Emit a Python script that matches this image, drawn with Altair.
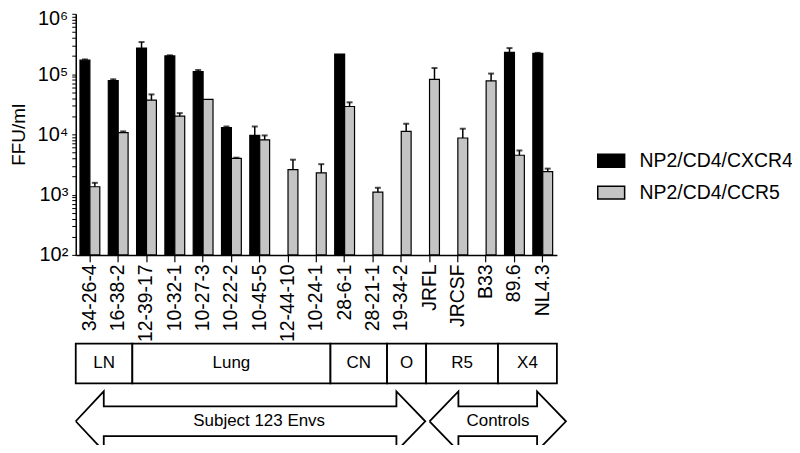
import altair as alt
import pandas as pd

categories = ["34-26-4", "16-38-2", "12-39-17", "10-32-1", "10-27-3", "10-22-2",
              "10-45-5", "12-44-10", "10-24-1", "28-6-1", "28-21-1", "19-34-2",
              "JRFL", "JRCSF", "B33", "89.6", "NL4.3"]
series = ["NP2/CD4/CXCR4", "NP2/CD4/CCR5"]
cxcr4 = [1.7e5, 7.8e4, 2.7e5, 2.0e5, 1.1e5, 1.29e4, 9.6e3, None, None, 2.15e5,
         None, None, None, None, None, 2.3e5, 2.2e5]
cxcr4_hi = [1.75e5, 8.2e4, 3.4e5, 2.05e5, 1.17e5, 1.35e4, 1.35e4, None, None, None,
            None, None, None, None, None, 2.7e5, 2.25e5]
ccr5 = [1.35e3, 1.07e4, 3.7e4, 2.0e4, 3.8e4, 4.0e3, 8.1e3, 2.6e3, 2.3e3, 2.9e4,
        1.1e3, 1.12e4, 8.2e4, 8.7e3, 7.7e4, 4.5e3, 2.4e3]
ccr5_hi = [1.57e3, 1.12e4, 4.6e4, 2.25e4, None, 4.1e3, 9.6e3, 3.8e3, 3.2e3, 3.4e4,
           1.3e3, 1.5e4, 1.26e5, 1.24e4, 1.02e5, 5.4e3, 2.7e3]

# annotation: tissue boxes (in category-index units)
box_labels = ["LN", "Lung", "CN", "O", "R5", "X4"]
box_start = [-0.5, 1.5, 8.5, 10.5, 11.88, 14.42]
box_end = [1.5, 8.5, 10.5, 11.88, 14.42, 16.5]

# annotation: double-headed arrows
arrow_names = ["Subject 123 Envs", "Controls"]
arrow_tip_left = [-0.5, 12.0]
arrow_head_left = [0.49, 13.02]
arrow_head_right = [10.83, 15.8]
arrow_tip_right = [11.85, 16.82]
arrow_label_x = [5.98, 14.42]

# rows of the annotation band (box row 0..1, arrow row below)
BOX_TOP, BOX_BOT = 0.0, 1.0
HEAD_TOP, SHAFT_TOP, MID, SHAFT_BOT, HEAD_BOT = 1.2, 1.575, 1.95, 2.325, 2.7

rows, errs = [], []
for i, c in enumerate(categories):
    for s, vals, his in ((series[0], cxcr4, cxcr4_hi), (series[1], ccr5, ccr5_hi)):
        v = vals[i]
        if v is not None:
            rows.append({"cat": c, "series": s, "value": v})
            if his[i] is not None:
                errs.append({"cat": c, "series": s, "value": v, "hi": his[i]})
df = pd.DataFrame(rows)
df_err = pd.DataFrame(errs)

minor_vals = [k * 10 ** d for d in range(2, 6) for k in range(1, 10)] + [10 ** 6]
label_expr = ("abs(log(datum.value)/LN10 - round(log(datum.value)/LN10)) < 0.001 ? "
              "'10' + ['\u2070','\u00b9','\u00b2','\u00b3','\u2074','\u2075','\u2076']"
              "[round(log(datum.value)/LN10)] : ''")

W, H = 483, 242
xband = alt.Scale(paddingInner=0.3, paddingOuter=0.15)
ylog = alt.Scale(type="log", domain=[100, 1e6])
xoff = alt.XOffset("series:N", sort=series, scale=alt.Scale(domain=series))

bars = alt.Chart(df).mark_bar(stroke="black", strokeWidth=1.2).encode(
    x=alt.X("cat:N", sort=categories, scale=xband,
            axis=alt.Axis(title=None, labelAngle=-90, labelFontSize=19.5, labelColor="black",
                          tickSize=7, tickColor="black", domainColor="black",
                          labelPadding=2, tickWidth=1.2, domainWidth=1.5, labelOverlap=False)),
    xOffset=xoff,
    y=alt.Y("value:Q", scale=ylog,
            axis=alt.Axis(title="FFU/ml", titleFontSize=19, titleFontWeight="normal",
                          titleColor="black", labelFontSize=20, labelColor="black",
                          values=minor_vals, labelExpr=label_expr, labelOverlap=False,
                          labelOffset={"condition": {"test": "datum.value > 999999", "value": 5},
                                       "value": 0},
                          tickSize=4, tickColor="black", domainColor="black", grid=False,
                          domainWidth=1.5, titlePadding=9, labelPadding=4)),
    y2=alt.datum(100),
    color=alt.Color("series:N", sort=series,
                    scale=alt.Scale(domain=series, range=["#000000", "#c4c4c4"]),
                    legend=alt.Legend(title=None, orient="none", legendX=523, legendY=133,
                                      labelFontSize=19.5, labelColor="black",
                                      symbolType="M-1,-0.48H1V0.48H-1Z", symbolSize=729,
                                      symbolStrokeColor="black", symbolStrokeWidth=1.5,
                                      labelOffset=14, rowPadding=8)),
)

rules = alt.Chart(df_err).mark_rule(color="black", strokeWidth=1.5).encode(
    x=alt.X("cat:N", sort=categories, scale=xband),
    xOffset=xoff,
    y=alt.Y("value:Q", scale=ylog),
    y2="hi:Q",
)
caps = alt.Chart(df_err).mark_tick(color="black", size=6, thickness=2).encode(
    x=alt.X("cat:N", sort=categories, scale=xband),
    xOffset=xoff,
    y=alt.Y("hi:Q", scale=ylog),
)
main = alt.layer(bars, rules, caps)

xq = alt.Scale(domain=[-0.5, 16.5])
ya = alt.Scale(domain=[0, HEAD_BOT], range=[331, 439])

df_box = pd.DataFrame({"label": box_labels, "x0": box_start, "x1": box_end,
                       "y0": [BOX_TOP] * 6, "y1": [BOX_BOT] * 6})
df_box["xm"] = (df_box["x0"] + df_box["x1"]) / 2
df_box["ym"] = (BOX_TOP + BOX_BOT) / 2

boxes = alt.Chart(df_box).mark_rect(fill="white", stroke="black", strokeWidth=1.8).encode(
    x=alt.X("x0:Q", scale=xq, axis=None), x2="x1:Q",
    y=alt.Y("y0:Q", scale=ya, axis=None), y2="y1:Q",
)
box_text = alt.Chart(df_box).mark_text(fontSize=17, color="black").encode(
    x=alt.X("xm:Q", scale=xq, axis=None),
    y=alt.Y("ym:Q", scale=ya, axis=None),
    text="label:N",
)

apts = []
for n, tl, hl, hr, tr in zip(arrow_names, arrow_tip_left, arrow_head_left,
                             arrow_head_right, arrow_tip_right):
    pts = [(tl, MID), (hl, HEAD_TOP), (hl, SHAFT_TOP), (hr, SHAFT_TOP), (hr, HEAD_TOP),
           (tr, MID), (hr, HEAD_BOT), (hr, SHAFT_BOT), (hl, SHAFT_BOT), (hl, HEAD_BOT),
           (tl, MID)]
    for k, (px, py) in enumerate(pts):
        apts.append({"name": n, "order": k, "ax": px, "ay": py})
df_arrow = pd.DataFrame(apts)
arrows = alt.Chart(df_arrow).mark_line(color="black", strokeWidth=1.8).encode(
    x=alt.X("ax:Q", scale=xq, axis=None),
    y=alt.Y("ay:Q", scale=ya, axis=None),
    detail="name:N",
    order="order:Q",
)
df_alab = pd.DataFrame({"name": arrow_names, "lx": arrow_label_x, "ly": [MID] * 2})
arrow_text = alt.Chart(df_alab).mark_text(fontSize=17, color="black").encode(
    x=alt.X("lx:Q", scale=xq, axis=None),
    y=alt.Y("ly:Q", scale=ya, axis=None),
    text="name:N",
)
annot = alt.layer(boxes, box_text, arrows, arrow_text)

chart = alt.layer(main, annot).resolve_scale(x="independent", y="independent").properties(
    width=W, height=H,
    autosize=alt.AutoSizeParams(type="none"),
    padding={"left": 68, "top": 5, "right": 236, "bottom": 190},
).configure(font="Liberation Sans").configure_view(stroke=None)

chart.save("out.html", embed_options={"renderer": "svg", "actions": False})
